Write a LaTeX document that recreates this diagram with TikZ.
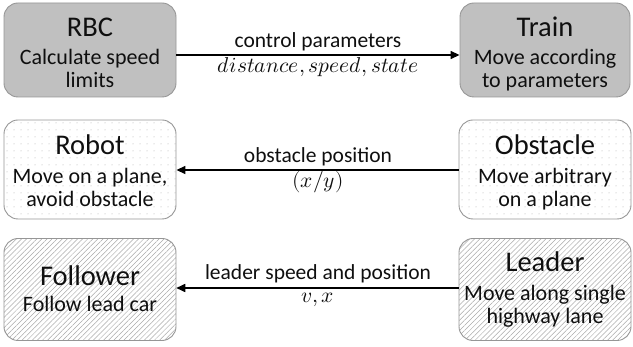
\documentclass[tikz,border=0pt]{standalone}
\usepackage{fontspec}
\usepackage{unicode-math}
\setmainfont{Carlito}
\setmathfont{Latin Modern Math}
\usetikzlibrary{arrows.meta,patterns.meta}

\definecolor{boxedge}{RGB}{150,150,150}
\definecolor{solidfill}{RGB}{192,192,192}
\definecolor{patfill}{RGB}{170,170,170}
\definecolor{ink}{RGB}{15,15,15}

\tikzset{
  agent/.style={draw=boxedge, line width=0.9pt, rounded corners=14pt},
  solidbox/.style={agent, fill=solidfill},
  dotbox/.style={agent, preaction={fill=white},
    pattern={Dots[distance=7pt, radius=0.5pt]}, pattern color=patfill},
  stripebox/.style={agent, preaction={fill=white},
    pattern={Lines[angle=45, distance=3.6pt, line width=0.5pt]}, pattern color=patfill},
  title/.style={text=ink, anchor=base, inner sep=0pt, font=\fontsize{28.5}{30}\selectfont},
  descr/.style={text=ink, anchor=base, inner sep=0pt, font=\fontsize{22}{23}\selectfont},
  link/.style={line width=1.6pt, draw=black, -{Triangle[length=9pt,width=8pt]}},
  linklabel/.style={text=ink, anchor=base, inner sep=0pt, font=\fontsize{21.5}{24}\selectfont}
}

\begin{document}
\begin{tikzpicture}[x=1pt,y=-1pt]
\useasboundingbox (0,0) rectangle (633,347);

% row 1: train control
\node[solidbox, minimum width=172pt, minimum height=94pt] (rbc) at (90,50) {};
\node[title] (rbc-t) at (90,37) {RBC};
\node[descr] (rbc-d1) at (90,65) {Calculate speed};
\node[descr] (rbc-d2) at (90,88) {limits};
\node[solidbox, minimum width=170pt, minimum height=94pt] (train) at (545,50) {};
\node[title] (train-t) at (545,37) {Train};
\node[descr] (train-d1) at (545,65) {Move according};
\node[descr] (train-d2) at (545,88) {to parameters};
\draw[link] (rbc.east |- 0,55) -- (train.west |- 0,55);
\node[linklabel] (l1a) at (318,48) {control parameters};
\node[linklabel] (l1b) at (318,73) {$distance, speed, state$};

% row 2: obstacle avoidance
\node[dotbox, minimum width=172pt, minimum height=99pt] (robot) at (90,169.5) {};
\node[title] (robot-t) at (90,155) {Robot};
\node[descr] (robot-d1) at (90,184) {Move on a plane,};
\node[descr] (robot-d2) at (90,207) {avoid obstacle};
\node[dotbox, minimum width=172pt, minimum height=99pt] (obst) at (545,169.5) {};
\node[title] (obst-t) at (545,155) {Obstacle};
\node[descr] (obst-d1) at (545,184) {Move arbitrary};
\node[descr] (obst-d2) at (545,207) {on a plane};
\draw[link] (obst.west |- 0,170) -- (robot.east |- 0,170);
\node[linklabel] (l2a) at (318,163) {obstacle position};
\node[linklabel] (l2b) at (318,188) {$(x/y)$};

% row 3: car following
\node[stripebox, minimum width=172pt, minimum height=102pt] (foll) at (90,289.5) {};
\node[title] (foll-t) at (90,286) {Follower};
\node[descr] (foll-d1) at (90,312) {Follow lead car};
\node[stripebox, minimum width=172pt, minimum height=102pt] (lead) at (545,289.5) {};
\node[title] (lead-t) at (545,272) {Leader};
\node[descr] (lead-d1) at (545,301) {Move along single};
\node[descr] (lead-d2) at (545,324) {highway lane};
\draw[link] (lead.west |- 0,288) -- (foll.east |- 0,288);
\node[linklabel] (l3a) at (318,280) {leader speed and position};
\node[linklabel] (l3b) at (318,303) {$v, x$};
\end{tikzpicture}
\end{document}
